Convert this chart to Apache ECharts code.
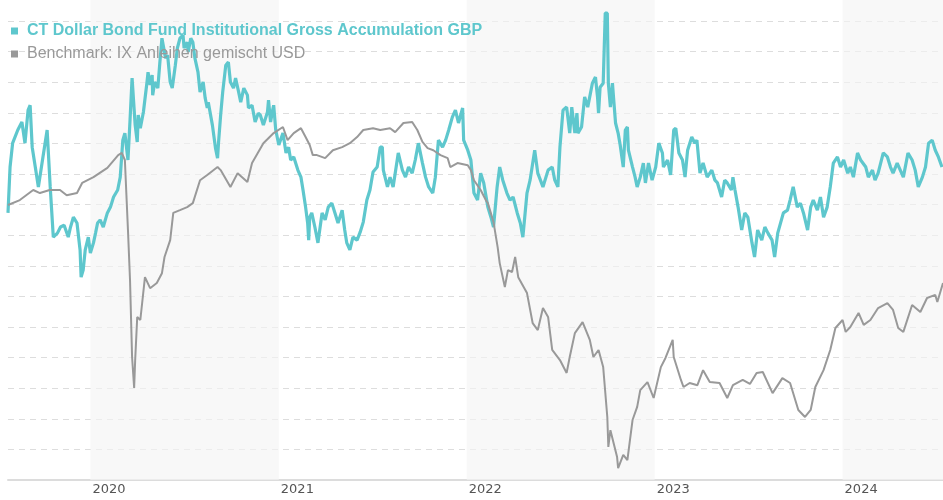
<!DOCTYPE html>
<html>
<head>
<meta charset="utf-8">
<script src="https://cdn.jsdelivr.net/npm/echarts@6/dist/echarts.min.js"></script>
<style>html,body{margin:0;padding:0;background:#fff}#chart{width:943px;height:500px}</style>
</head>
<body>
<div id="chart"></div>
<script>
const fundName = 'CT Dollar Bond Fund Institutional Gross Accumulation GBP';
const benchName = 'Benchmark: IX Anleihen gemischt USD';
const shadedYears = [2020, 2022, 2024];
const xStart = '2019-07-25';
const xEnd = '2024-07-14';

const fundData = [
['2019-07-25',8.73],['2019-07-29',10.23],['2019-08-03',11.01],['2019-08-13',11.44],['2019-08-21',11.70],['2019-08-27',11.01],
['2019-09-02',12.09],['2019-09-06',12.25],['2019-09-10',10.88],['2019-09-16',10.23],['2019-09-22',9.58],['2019-09-30',10.46],
['2019-10-09',11.44],['2019-10-15',9.58],['2019-10-21',7.94],['2019-10-29',8.07],['2019-11-04',8.27],['2019-11-11',8.33],
['2019-11-19',7.94],['2019-11-23',8.24],['2019-11-29',8.59],['2019-12-06',8.40],['2019-12-12',7.52],['2019-12-14',6.63],
['2019-12-18',6.86],['2019-12-22',7.52],['2019-12-28',7.94],['2020-01-01',7.42],['2020-01-07',7.75],['2020-01-11',8.07],
['2020-01-15',8.40],['2020-01-20',8.50],['2020-01-26',8.27],['2020-02-03',8.73],['2020-02-09',8.92],['2020-02-15',9.25],
['2020-02-23',9.48],['2020-02-28',9.90],['2020-03-04',11.11],['2020-03-08',11.34],['2020-03-14',10.46],['2020-03-18',11.76],
['2020-03-22',13.14],['2020-03-24',13.14],['2020-03-28',11.60],['2020-04-01',11.05],['2020-04-03',11.93],['2020-04-07',11.50],
['2020-04-13',12.03],['2020-04-20',13.01],['2020-04-22',13.33],['2020-04-26',12.91],['2020-04-30',13.24],['2020-05-01',12.58],
['2020-05-05',13.01],['2020-05-11',12.81],['2020-05-15',13.66],['2020-05-19',14.44],['2020-05-22',14.44],['2020-05-26',13.79],
['2020-05-30',13.89],['2020-06-04',13.01],['2020-06-08',12.81],['2020-06-14',13.56],['2020-06-18',14.12],['2020-06-23',14.44],
['2020-06-29',14.54],['2020-07-01',14.12],['2020-07-07',14.31],['2020-07-09',13.99],['2020-07-14',14.44],['2020-07-18',14.31],
['2020-07-22',13.79],['2020-07-28',13.33],['2020-08-01',12.68],['2020-08-07',13.01],['2020-08-11',12.48],['2020-08-15',12.16],
['2020-08-17',12.35],['2020-08-25',11.60],['2020-08-31',10.85],['2020-09-04',10.52],['2020-09-06',11.05],['2020-09-10',11.93],
['2020-09-14',12.68],['2020-09-20',13.56],['2020-09-25',13.66],['2020-09-29',13.01],['2020-10-05',12.81],['2020-10-09',13.14],
['2020-10-15',12.68],['2020-10-19',12.35],['2020-10-25',12.81],['2020-11-01',12.58],['2020-11-03',12.16],['2020-11-10',12.25],
['2020-11-16',11.70],['2020-11-22',11.99],['2020-11-26',11.93],['2020-12-02',11.60],['2020-12-10',12.03],['2020-12-12',12.42],
['2020-12-16',11.70],['2020-12-20',12.09],['2020-12-22',12.25],['2020-12-26',11.44],['2021-01-01',10.95],['2021-01-09',11.34],
['2021-01-15',10.69],['2021-01-20',10.88],['2021-01-24',10.46],['2021-01-30',10.56],['2021-02-07',10.13],['2021-02-13',9.90],
['2021-02-17',9.48],['2021-02-22',8.92],['2021-02-26',8.40],['2021-02-28',7.84],['2021-03-02',8.59],['2021-03-06',8.73],
['2021-03-12',8.27],['2021-03-18',7.75],['2021-03-26',8.73],['2021-04-01',8.50],['2021-04-07',8.92],['2021-04-14',9.05],
['2021-04-20',8.73],['2021-04-26',8.40],['2021-05-04',8.82],['2021-05-09',8.17],['2021-05-13',7.75],['2021-05-19',7.52],
['2021-05-25',7.94],['2021-06-02',7.84],['2021-06-08',8.10],['2021-06-14',8.43],['2021-06-21',9.15],['2021-06-27',9.48],
['2021-07-03',10.07],['2021-07-11',10.23],['2021-07-17',10.88],['2021-07-21',10.88],['2021-07-23',10.13],['2021-07-31',9.58],
['2021-08-05',9.90],['2021-08-11',9.58],['2021-08-21',10.69],['2021-08-29',10.13],['2021-09-04',9.90],['2021-09-10',10.23],
['2021-09-17',10.03],['2021-09-23',10.46],['2021-09-29',11.01],['2021-10-07',10.36],['2021-10-13',9.90],['2021-10-19',9.58],
['2021-10-27',9.38],['2021-11-01',9.90],['2021-11-07',11.11],['2021-11-15',10.88],['2021-11-21',11.11],['2021-11-27',11.44],
['2021-12-04',11.86],['2021-12-10',12.09],['2021-12-16',11.67],['2021-12-24',12.16],['2021-12-26',11.11],['2022-01-03',10.78],
['2022-01-09',10.46],['2022-01-15',9.38],['2022-01-22',9.15],['2022-01-28',10.03],['2022-02-03',9.71],['2022-02-11',8.92],
['2022-02-17',8.59],['2022-02-22',8.27],['2022-03-01',9.58],['2022-03-06',10.23],['2022-03-12',9.80],['2022-03-20',9.38],
['2022-03-26',9.15],['2022-04-01',9.25],['2022-04-09',8.73],['2022-04-15',8.40],['2022-04-20',7.94],['2022-04-28',9.38],
['2022-05-04',9.80],['2022-05-13',10.78],['2022-05-19',10.03],['2022-05-29',9.58],['2022-06-08',10.13],['2022-06-16',10.23],
['2022-06-21',9.80],['2022-06-27',9.58],['2022-07-01',10.88],['2022-07-07',12.09],['2022-07-14',12.19],['2022-07-20',11.34],
['2022-07-24',12.19],['2022-07-30',11.34],['2022-08-03',11.99],['2022-08-05',11.34],['2022-08-12',11.54],['2022-08-18',12.52],
['2022-08-24',12.19],['2022-09-02',12.97],['2022-09-08',13.17],['2022-09-12',12.52],['2022-09-14',11.99],['2022-09-17',12.84],
['2022-09-23',12.97],['2022-09-27',15.26],['2022-10-01',15.26],['2022-10-03',12.97],['2022-10-07',12.19],['2022-10-11',12.97],
['2022-10-13',12.52],['2022-10-17',11.67],['2022-10-22',11.34],['2022-10-26',10.95],['2022-11-01',10.23],['2022-11-05',11.44],
['2022-11-09',11.54],['2022-11-11',10.78],['2022-11-19',10.23],['2022-11-24',9.90],['2022-11-28',9.58],['2022-12-04',9.90],
['2022-12-10',10.36],['2022-12-14',9.71],['2022-12-20',10.36],['2022-12-27',9.80],['2023-01-03',10.23],['2023-01-09',11.01],
['2023-01-16',10.69],['2023-01-18',10.23],['2023-01-26',10.46],['2023-02-01',9.97],['2023-02-07',11.44],['2023-02-11',11.50],
['2023-02-17',10.69],['2023-02-24',10.46],['2023-03-01',9.90],['2023-03-06',10.78],['2023-03-14',11.21],['2023-03-20',11.01],
['2023-03-24',11.11],['2023-03-30',10.03],['2023-04-05',10.36],['2023-04-13',9.90],['2023-04-22',10.13],['2023-04-28',9.80],
['2023-05-03',9.71],['2023-05-11',9.25],['2023-05-17',9.80],['2023-05-22',9.71],['2023-05-30',9.48],['2023-06-02',9.90],
['2023-06-06',9.48],['2023-06-12',8.92],['2023-06-19',8.17],['2023-06-25',8.73],['2023-07-01',8.59],['2023-07-09',7.75],
['2023-07-14',7.29],['2023-07-20',8.17],['2023-07-28',7.84],['2023-08-03',8.27],['2023-08-09',8.07],['2023-08-17',7.84],
['2023-08-22',7.29],['2023-08-28',8.07],['2023-09-08',8.73],['2023-09-16',8.82],['2023-09-21',9.15],['2023-09-27',9.58],
['2023-10-05',8.92],['2023-10-11',9.05],['2023-10-17',8.73],['2023-10-25',8.17],['2023-10-31',8.92],['2023-11-05',9.15],
['2023-11-13',8.82],['2023-11-19',9.25],['2023-11-25',8.59],['2023-12-02',8.92],['2023-12-08',9.58],['2023-12-14',10.36],
['2023-12-22',10.56],['2023-12-28',10.23],['2024-01-03',10.46],['2024-01-11',10.03],['2024-01-16',10.23],['2024-01-22',9.90],
['2024-01-30',10.69],['2024-02-05',10.46],['2024-02-15',10.23],['2024-02-20',9.90],['2024-02-28',10.13],['2024-03-04',9.80],
['2024-03-10',10.03],['2024-03-20',10.69],['2024-03-28',10.56],['2024-04-03',10.23],['2024-04-08',10.03],['2024-04-16',10.36],
['2024-04-22',10.13],['2024-04-28',9.90],['2024-05-07',10.69],['2024-05-15',10.46],['2024-05-21',10.13],['2024-05-27',9.58],
['2024-06-04',9.90],['2024-06-10',10.23],['2024-06-16',11.01],['2024-06-23',11.11],['2024-06-29',10.78],['2024-07-05',10.56],
['2024-07-12',10.23]
];

const benchData = [
['2019-07-25',8.99],['2019-08-17',9.15],['2019-09-12',9.48],['2019-09-25',9.38],['2019-10-14',9.48],['2019-11-03',9.48],
['2019-11-16',9.31],['2019-12-06',9.38],['2019-12-16',9.71],['2020-01-07',9.90],['2020-02-03',10.20],['2020-02-24',10.62],
['2020-03-02',10.69],['2020-03-08',10.46],['2020-03-14',8.17],['2020-03-18',6.54],['2020-03-22',4.02],['2020-03-26',3.01],
['2020-03-28',3.92],['2020-04-01',5.33],['2020-04-07',5.23],['2020-04-16',6.63],['2020-04-26',6.27],['2020-05-09',6.44],
['2020-05-19',6.76],['2020-05-24',7.29],['2020-06-04',7.84],['2020-06-10',8.73],['2020-06-23',8.82],['2020-07-07',8.92],
['2020-07-18',9.05],['2020-08-01',9.80],['2020-08-15',9.97],['2020-09-04',10.23],['2020-09-10',10.13],['2020-09-29',9.58],
['2020-10-13',10.03],['2020-11-01',9.74],['2020-11-10',10.36],['2020-12-02',11.01],['2020-12-22',11.34],['2021-01-09',11.54],
['2021-01-18',11.11],['2021-01-30',11.34],['2021-02-13',11.50],['2021-02-22',11.21],['2021-03-02',10.95],['2021-03-08',10.62],
['2021-03-16',10.62],['2021-04-01',10.52],['2021-04-16',10.78],['2021-05-04',10.88],['2021-05-19',11.01],['2021-06-02',11.21],
['2021-06-14',11.44],['2021-07-03',11.50],['2021-07-17',11.44],['2021-08-05',11.50],['2021-08-15',11.37],['2021-08-31',11.67],
['2021-09-17',11.70],['2021-09-27',11.44],['2021-10-07',11.05],['2021-10-17',10.85],['2021-10-28',10.78],['2021-11-11',10.62],
['2021-11-25',10.52],['2021-11-30',10.23],['2021-12-14',10.36],['2022-01-03',10.29],['2022-01-09',10.13],['2022-01-15',9.80],
['2022-01-28',9.48],['2022-02-07',9.15],['2022-02-11',9.05],['2022-02-22',8.43],['2022-03-02',7.61],['2022-03-06',7.09],
['2022-03-16',6.31],['2022-03-22',6.86],['2022-03-30',6.80],['2022-04-05',7.29],['2022-04-11',6.63],['2022-04-28',6.11],
['2022-05-09',5.13],['2022-05-19',4.90],['2022-05-29',5.62],['2022-06-08',5.33],['2022-06-16',4.25],['2022-07-01',3.92],
['2022-07-14',3.50],['2022-07-20',4.02],['2022-07-30',4.80],['2022-08-14',5.16],['2022-08-28',4.58],['2022-09-04',4.02],
['2022-09-14',4.25],['2022-09-23',3.69],['2022-10-01',2.06],['2022-10-03',1.08],['2022-10-07',1.63],['2022-10-20',0.75],
['2022-10-22',0.39],['2022-11-01',0.82],['2022-11-09',0.65],['2022-11-19',1.96],['2022-11-28',2.39],['2022-12-04',2.94],
['2022-12-18',3.20],['2022-12-30',2.68],['2023-01-13',3.69],['2023-01-22',3.99],['2023-02-05',4.58],['2023-02-07',4.02],
['2023-02-21',3.27],['2023-02-26',3.04],['2023-03-10',3.17],['2023-03-25',3.10],['2023-04-05',3.59],['2023-04-18',3.20],
['2023-05-07',3.17],['2023-05-22',2.68],['2023-06-02',3.10],['2023-06-21',3.27],['2023-07-05',3.14],['2023-07-18',3.50],
['2023-07-30',3.53],['2023-08-18',2.84],['2023-09-06',3.33],['2023-09-21',3.17],['2023-10-07',2.29],['2023-10-20',2.06],
['2023-10-31',2.29],['2023-11-09',3.04],['2023-11-25',3.59],['2023-12-08',4.25],['2023-12-18',4.97],['2024-01-01',5.23],
['2024-01-07',4.84],['2024-01-16',5.00],['2024-02-01',5.46],['2024-02-11',5.07],['2024-02-24',5.23],['2024-03-10',5.62],
['2024-03-28',5.78],['2024-04-08',5.56],['2024-04-18',4.97],['2024-04-28',4.84],['2024-05-15',5.72],['2024-05-31',5.49],
['2024-06-13',5.95],['2024-06-29',6.05],['2024-07-03',5.82],['2024-07-14',6.44]
];

const teal = '#5ec7cd';
const grey = '#999999';

const bands = shadedYears.map(y => [
  { xAxis: y + '-01-01' },
  { xAxis: ((y + 1) + '-01-01') > xEnd ? xEnd : (y + 1) + '-01-01' }
]);

const chart = echarts.init(document.getElementById('chart'), null, { renderer: 'canvas' });
chart.setOption({
  animation: false,
  backgroundColor: '#fff',
  grid: { left: 8, right: 0, top: 0, bottom: 20, containLabel: false },
  legend: {
    orient: 'vertical', left: 6, top: 18, itemWidth: 7, itemHeight: 7, itemGap: 7, icon: 'rect',
    textStyle: { fontSize: 16, fontFamily: '"Liberation Sans", Arial, sans-serif', padding: [0, 0, 0, 4] },
    data: [
      { name: fundName, textStyle: { color: teal, fontWeight: 'bold' } },
      { name: benchName, textStyle: { color: grey } }
    ]
  },
  xAxis: {
    type: 'time', min: xStart, max: xEnd,
    minInterval: 300 * 24 * 3600 * 1000,
    axisLine: { show: true, lineStyle: { color: '#dcdcdc', width: 2 } },
    axisTick: { show: false },
    splitLine: { show: false },
    axisLabel: {
      color: '#555', fontSize: 13, fontFamily: '"DejaVu Sans", sans-serif', align: 'left', margin: 3,
      padding: [0, 0, 0, 2], showMinLabel: false,
      formatter: v => String(new Date(v).getFullYear())
    }
  },
  yAxis: {
    type: 'value', min: 0, max: 15.69, interval: 1,
    axisLine: { show: false }, axisTick: { show: false }, axisLabel: { show: false },
    splitLine: { show: true, showMaxLine: false, lineStyle: { color: '#dddddd', type: [6, 5], width: 1 } }
  },
  series: [
    {
      name: 'bands', type: 'line', data: [], z: 1, silent: true,
      markArea: { silent: true, itemStyle: { color: 'rgba(244,244,244,0.65)' }, data: bands }
    },
    {
      name: fundName, type: 'line', data: fundData, showSymbol: false, symbol: 'none', z: 3,
      lineStyle: { color: teal, width: 3.2 }, itemStyle: { color: teal }
    },
    {
      name: benchName, type: 'line', data: benchData, showSymbol: false, symbol: 'none', z: 4,
      lineStyle: { color: grey, width: 2 }, itemStyle: { color: grey }
    }
  ]
});
</script>
</body>
</html>
